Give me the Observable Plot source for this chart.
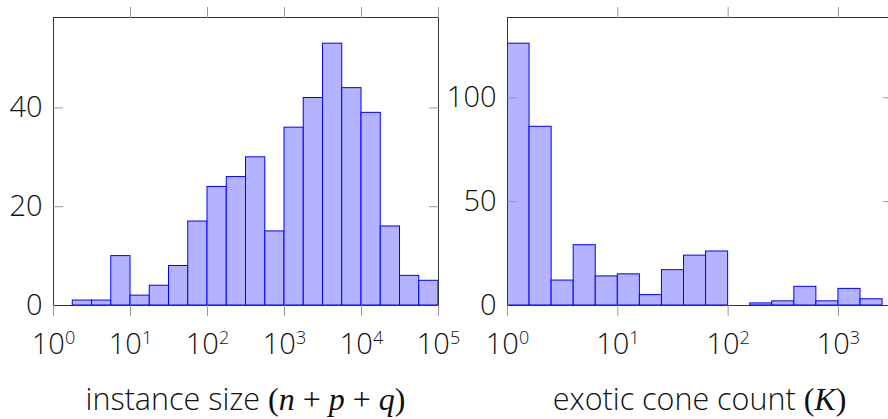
<!DOCTYPE html>
<html><head><meta charset="utf-8">
<script src="https://cdn.jsdelivr.net/npm/d3@7"></script>
<script src="https://cdn.jsdelivr.net/npm/@observablehq/plot@0.6"></script>
<style>
html,body{margin:0;padding:0;background:#fff;overflow:hidden;width:888px;height:419px}
#wrap{position:relative;width:888px;height:419px;overflow:hidden;background:#fff}
#wrap svg{position:absolute;top:0}
</style></head><body><div id="wrap"></div>
<script>
// Left histogram: instance size (n + p + q), bins of 0.25 decade from 10^0
const sizeCounts = [0,1,1,10,2,4,8,17,24,26,30,15,36,42,53,44,39,16,6,5];
const sizeBinDecades = 0.25;
const sizeXTicks = [1,10,100,1000,10000,100000];
const sizeTopTicks = [10,100,1000,10000,100000];
const sizeYTicks = [0,20,40];
const sizeYMax = 58.3;
const sizeXMaxExp = 5;
const sizeLabel = [["instance size ",""],["(","up"],["n","it"],[" + ","up"],["p","it"],[" + ","up"],["q","it"],[")","up"]];

// Right histogram: exotic cone count (K), bins of 0.2 decade from 10^0
const coneCounts = [126,86,12,29,14,15,5,17,24,26,0,1,2,9,2,8,3,0];
const coneBinDecades = 0.2;
const coneXTicks = [1,10,100,1000];
const coneTopTicks = [10,100,1000];
const coneYTicks = [0,50,100];
const coneYMax = 138.6;
const coneXMaxExp = 3.49;
const coneLabel = [["exotic cone count ",""],["(","up"],["K","it"],[")","up"]];

const PW = 385, MT = 17, H = 419, MB = 419 - 305;
const FONT = "'Open Sans', Lato, sans-serif";

function makePanel(counts, binW, xMaxExp, yMax, xTicks, topTicks, yTicks, ml, mr, label) {
  const bins = counts.map((c, i) => ({x1: 10 ** (i * binW), x2: 10 ** ((i + 1) * binW), count: c}));
  const svg = Plot.plot({
    width: ml + PW + mr, height: H,
    marginLeft: ml, marginRight: mr, marginTop: MT, marginBottom: MB,
    style: {fontFamily: FONT, fontWeight: 300, background: "transparent", overflow: "visible", maxWidth: "none"},
    x: {type: "log", domain: [1, 10 ** xMaxExp]},
    y: {domain: [0, yMax]},
    marks: [
      Plot.frame({fill: "white"}),
      Plot.rectY(bins.filter(d => d.count > 0), {x1: "x1", x2: "x2", y: "count", fill: "#b3b3ff", stroke: "#0000ff", strokeWidth: 1, clip: true}),
      Plot.frame({stroke: "#333"}),
      Plot.ruleY([0], {stroke: "#1414c8", clip: true}),
      Plot.axisX(xTicks, {anchor: "bottom", tickSize: 11, tickPadding: 17, fontSize: 29, stroke: "#999", fill: "#111", label: null,
        tickFormat: d => `10|${Math.round(Math.log10(d))}`}),
      Plot.axisX(topTicks, {anchor: "top", tickSize: 11, stroke: "#999", label: null, tickFormat: () => ""}),
      Plot.axisY(yTicks, {anchor: "left", tickSize: 0, tickPadding: 11, fontSize: 29, fill: "#111", label: null}),
      Plot.axisY(yTicks.filter(d => d > 0), {anchor: "left", tickSize: 10, dx: 10, stroke: "#999", label: null, tickFormat: () => ""}),
      Plot.axisY(yTicks.filter(d => d > 0), {anchor: "right", tickSize: 10, dx: -10, stroke: "#999", label: null, tickFormat: () => ""})
    ]
  });
  d3.select(svg).selectAll("text").each(function () {
    const t = this.textContent;
    if (t.includes("|")) {
      const [b, e] = t.split("|");
      const s = d3.select(this);
      s.text(b);
      s.append("tspan").attr("dy", -10).attr("font-size", 18).text(e);
    }
  });
  const lt = d3.select(svg).append("text")
    .attr("x", ml + PW / 2).attr("y", 410).attr("text-anchor", "middle")
    .attr("font-size", 30.5).attr("fill", "#111");
  label.forEach(([s, k]) => {
    const ts = lt.append("tspan").text(s);
    if (k === "it") ts.attr("font-family", "Liberation Serif").attr("font-style", "italic").attr("font-weight", 400).attr("font-size", 32)
      .attr("stroke", "#fff").attr("stroke-width", 0.6).attr("paint-order", "stroke");
    else if (k === "up") ts.attr("font-family", "Liberation Serif").attr("font-weight", 400).attr("font-size", 32)
      .attr("stroke", "#fff").attr("stroke-width", 0.6).attr("paint-order", "stroke");
  });
  return svg;
}

const wrap = document.getElementById("wrap");
const left = makePanel(sizeCounts, sizeBinDecades, sizeXMaxExp, sizeYMax, sizeXTicks, sizeTopTicks, sizeYTicks, 53, 12, sizeLabel);
left.style.left = "0px";
wrap.appendChild(left);
const right = makePanel(coneCounts, coneBinDecades, coneXMaxExp, coneYMax, coneXTicks, coneTopTicks, coneYTicks, 67, 10, coneLabel);
right.style.left = "440px";
wrap.appendChild(right);
</script></body></html>
